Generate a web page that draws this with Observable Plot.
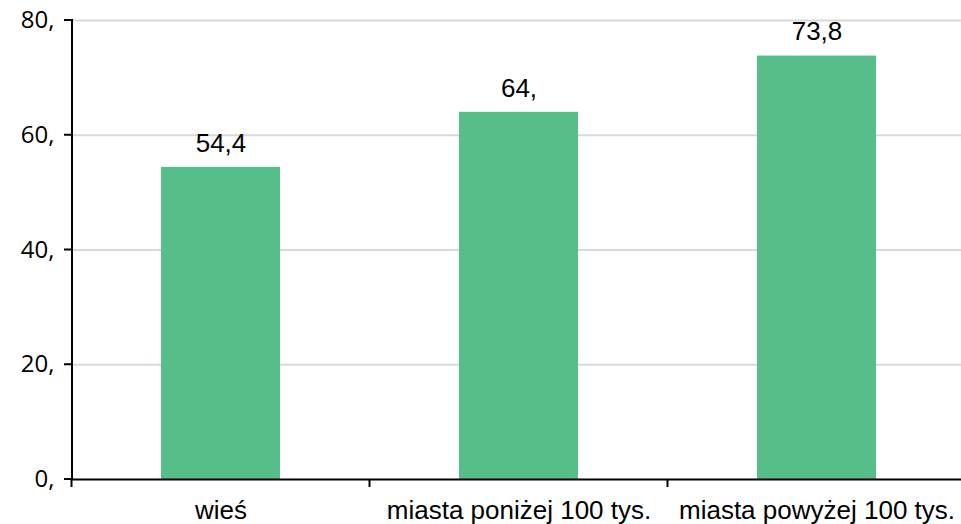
<!DOCTYPE html>
<html><head><meta charset="utf-8">
<script src="https://cdn.jsdelivr.net/npm/d3@7"></script>
<script src="https://cdn.jsdelivr.net/npm/@observablehq/plot@0.6"></script>
<style>body{margin:0;background:#fff;} svg{display:block;}</style>
</head><body><div id="chart"></div>
<script>
const categories = ["wieś", "miasta poniżej 100 tys.", "miasta powyżej 100 tys."];
const values = [54.4, 64, 73.8];
const valueLabels = ["54,4", "64,", "73,8"];
const yTicks = [0, 20, 40, 60, 80];
const yTickLabels = ["0,", "20,", "40,", "60,", "80,"];

const data = categories.map((c, i) => ({cat: c, value: values[i], label: valueLabels[i]}));

const W = 961, H = 524, ML = 72, MT = 20, MB = 45;
const xRange = [ML, 966];

const axisLines = (index, scales) => {
  const g = d3.create("svg:g");
  const xs = scales.x;
  const bw = typeof xs.bandwidth === "function" ? xs.bandwidth() : xs.bandwidth;
  const step = (xRange[1] - xRange[0]) / categories.length;
  const y0 = scales.y(0), yTop = scales.y(80);
  g.append("line").attr("x1", ML).attr("x2", ML).attr("y1", yTop - 1).attr("y2", y0)
    .attr("stroke", "black").attr("stroke-width", 2);
  yTicks.forEach(t => {
    const yy = scales.y(t);
    g.append("line").attr("x1", ML - 8).attr("x2", ML).attr("y1", yy).attr("y2", yy)
      .attr("stroke", "black").attr("stroke-width", 2);
  });
  categories.forEach(c => {
    const xb = xs(c) - (step - bw) / 2;
    g.append("line").attr("x1", xb).attr("x2", xb).attr("y1", y0).attr("y2", y0 + 8)
      .attr("stroke", "black").attr("stroke-width", 2);
  });
  return g.node();
};

const chart = Plot.plot({
  width: W, height: H,
  marginLeft: ML, marginRight: 0, marginTop: MT, marginBottom: MB,
  style: {fontFamily: "Liberation Sans, Arial, sans-serif", background: "white"},
  x: {domain: categories, range: xRange, paddingInner: 0.6, paddingOuter: 0.3, align: 0.5, axis: null},
  y: {domain: [0, 80], axis: null},
  marks: [
    Plot.ruleY(yTicks.filter(d => d > 0), {stroke: "#d9d9d9", strokeWidth: 2}),
    Plot.barY(data, {x: "cat", y: "value", fill: "#56be89"}),
    Plot.text(data, {x: "cat", y: "value", text: "label", dy: -24, fontSize: 26, fill: "black"}),
    Plot.text(yTicks, {y: d => d, text: (d, i) => yTickLabels[i], frameAnchor: "left", dx: -18,
      textAnchor: "end", fontSize: 24, fontFamily: "Open Sans", fill: "black"}),
    Plot.axisX({tickSize: 0, tickPadding: 21, fontSize: 26, color: "black", label: null}),
    Plot.ruleY([0], {stroke: "black", strokeWidth: 2}),
    axisLines
  ]
});
document.getElementById("chart").append(chart);
</script>
</body></html>
